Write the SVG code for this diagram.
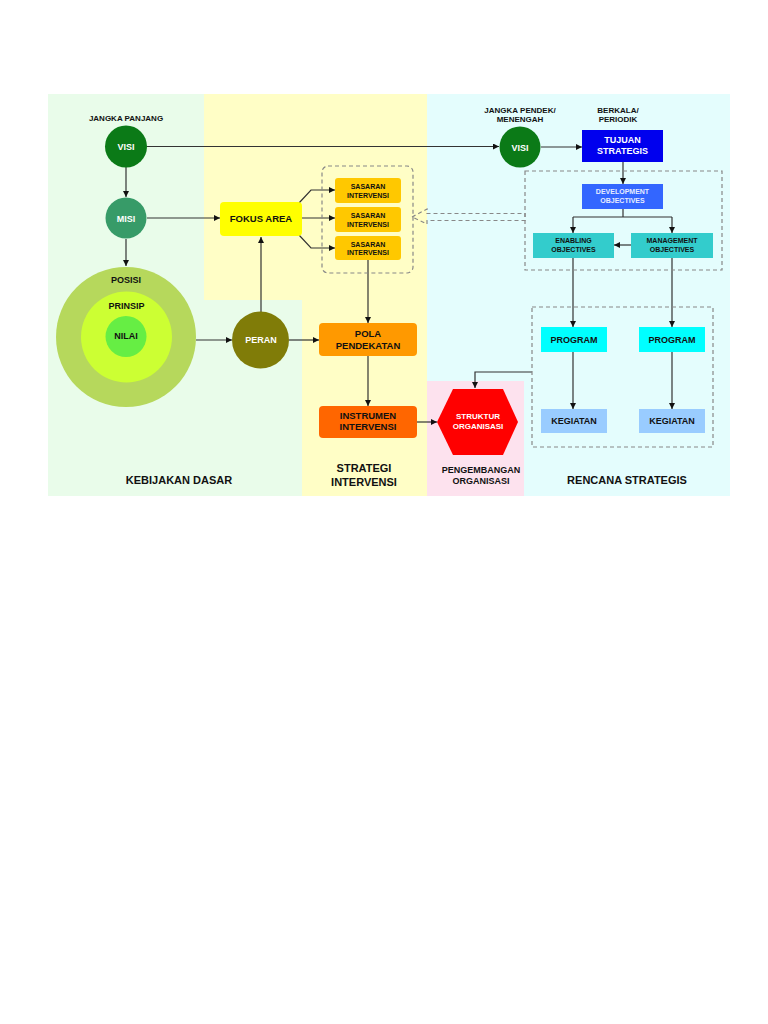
<svg xmlns="http://www.w3.org/2000/svg" width="768" height="1024" viewBox="0 0 768 1024">
<defs>
<marker id="ah" viewBox="0 0 10 10" refX="10" refY="5" markerWidth="6" markerHeight="6" orient="auto" markerUnits="userSpaceOnUse">
<path d="M0,0 L10,5 L0,10 z" fill="#111"/>
</marker>
</defs>
<style>
text{font-family:"Liberation Sans",Arial,sans-serif;font-weight:bold;text-anchor:middle;}
.dk{fill:#111;}
.wh{fill:#fff;}
.ln{stroke:#333;stroke-width:1.2;fill:none;}
.ar{stroke:#333;stroke-width:1.2;fill:none;marker-end:url(#ah);}
.dash{stroke:#888;stroke-width:1.2;fill:none;stroke-dasharray:4,3;}
.s7{font-size:7px;}
.s8{font-size:8px;}
.s9{font-size:9px;}
.s95{font-size:9.5px;}
.s11{font-size:11px;}
</style>
<rect width="768" height="1024" fill="#fff"/>
<g id="backgrounds">
<rect x="48" y="94" width="682" height="402" fill="#e9fcea"/>
<rect x="204" y="94" width="223" height="206" fill="#fffec6"/>
<rect x="302" y="300" width="125" height="196" fill="#fffec6"/>
<rect x="427" y="94" width="303" height="402" fill="#e4fdfd"/>
<rect x="427" y="381" width="97" height="115" fill="#fde2ee"/>
</g>
<g id="labels">
<text class="s8 dk" x="126" y="121">JANGKA PANJANG</text>
<text class="s8 dk" x="520" y="113">JANGKA PENDEK/</text>
<text class="s8 dk" x="520" y="122">MENENGAH</text>
<text class="s8 dk" x="618" y="113">BERKALA/</text>
<text class="s8 dk" x="618" y="122">PERIODIK</text>
<text class="s11 dk" x="179" y="484">KEBIJAKAN DASAR</text>
<text class="s11 dk" x="364" y="472">STRATEGI</text>
<text class="s11 dk" x="364" y="486">INTERVENSI</text>
<text class="s9 dk" x="481" y="473">PENGEMBANGAN</text>
<text class="s9 dk" x="481" y="484">ORGANISASI</text>
<text class="s11 dk" x="627" y="484">RENCANA STRATEGIS</text>
</g>
<g id="connectors">
<line class="ar" x1="147" y1="146.5" x2="499" y2="146.5"/>
<line class="ar" x1="126" y1="167" x2="126" y2="197"/>
<line class="ar" x1="147" y1="218" x2="220" y2="218"/>
<line class="ar" x1="126" y1="239" x2="126" y2="266"/>
<line class="ar" x1="196" y1="340" x2="232" y2="340"/>
<line class="ar" x1="261" y1="312" x2="261" y2="237"/>
<line class="ar" x1="289" y1="340" x2="319" y2="340"/>
<polyline class="ar" points="299,203 311,190 335,190"/>
<line class="ar" x1="302" y1="218" x2="335" y2="218"/>
<polyline class="ar" points="299,235 311,248 335,248"/>
<line class="ar" x1="368" y1="260" x2="368" y2="323"/>
<line class="ar" x1="368" y1="356" x2="368" y2="406"/>
<line class="ar" x1="417" y1="422" x2="437" y2="422"/>
<line class="ar" x1="541" y1="147" x2="582" y2="147"/>
<line class="ar" x1="623" y1="162" x2="623" y2="184"/>
<line class="ln" x1="623" y1="209" x2="623" y2="217"/>
<line class="ln" x1="573" y1="217" x2="672" y2="217"/>
<line class="ar" x1="573" y1="217" x2="573" y2="233"/>
<line class="ar" x1="672" y1="217" x2="672" y2="233"/>
<line class="ar" x1="631" y1="245" x2="614" y2="245"/>
<line class="ar" x1="573" y1="258" x2="573" y2="327"/>
<line class="ar" x1="672" y1="258" x2="672" y2="327"/>
<line class="ar" x1="573" y1="352" x2="573" y2="409"/>
<line class="ar" x1="672" y1="352" x2="672" y2="409"/>
<polyline class="ar" points="532,372 475,372 475,388"/>
<polygon class="dash" points="412,217 427,209 427,213.5 525,213.5 525,220.5 427,220.5 427,224"/>
</g>
<g id="groups">
<rect class="dash" x="322" y="166" width="91" height="107" rx="6"/>
<rect class="dash" x="525" y="171" width="197" height="99"/>
<rect class="dash" x="532" y="307" width="181" height="140"/>
</g>
<g id="visi">
<circle cx="126" cy="146.5" r="21" fill="#0b7a17"/>
<text class="s9 wh" x="126" y="150">VISI</text>
</g>
<g id="misi">
<circle cx="126" cy="218" r="20.5" fill="#379b68"/>
<text class="s9 wh" x="126" y="221.5">MISI</text>
</g>
<g id="posisi">
<circle cx="126" cy="337" r="70" fill="#b6d85c"/>
<text class="s9 dk" x="126" y="283">POSISI</text>
</g>
<g id="prinsip">
<circle cx="126.5" cy="337" r="45.5" fill="#ccff33"/>
<text class="s9 dk" x="126.5" y="309">PRINSIP</text>
</g>
<g id="nilai">
<circle cx="126" cy="336.5" r="20.5" fill="#66ee44"/>
<text class="s9 dk" x="126" y="338.5">NILAI</text>
</g>
<g id="peran">
<circle cx="260.5" cy="340" r="28.5" fill="#807c08"/>
<text class="s9 wh" x="261" y="343">PERAN</text>
</g>
<g id="fokus-area">
<rect x="220" y="202" width="82" height="34" rx="4" fill="#ffff00"/>
<text class="s95 dk" x="261" y="221.5">FOKUS AREA</text>
</g>
<g id="sasaran1">
<rect x="335" y="178" width="66" height="25" rx="3" fill="#ffc800"/>
<text class="s7 dk" x="368" y="189">SASARAN</text>
<text class="s7 dk" x="368" y="197.5">INTERVENSI</text>
</g>
<g id="sasaran2">
<rect x="335" y="207" width="66" height="25" rx="3" fill="#ffc800"/>
<text class="s7 dk" x="368" y="218">SASARAN</text>
<text class="s7 dk" x="368" y="226.5">INTERVENSI</text>
</g>
<g id="sasaran3">
<rect x="335" y="236" width="66" height="24" rx="3" fill="#ffc800"/>
<text class="s7 dk" x="368" y="246.5">SASARAN</text>
<text class="s7 dk" x="368" y="255">INTERVENSI</text>
</g>
<g id="pola-pendekatan">
<rect x="319" y="323" width="98" height="33" rx="4" fill="#ff9900"/>
<text class="s95 dk" x="368" y="336.5">POLA</text>
<text class="s95 dk" x="368" y="348.5">PENDEKATAN</text>
</g>
<g id="instrumen-intervensi">
<rect x="319" y="406" width="98" height="32" rx="4" fill="#ff6600"/>
<text class="s95 dk" x="368" y="419">INSTRUMEN</text>
<text class="s95 dk" x="368" y="430">INTERVENSI</text>
</g>
<g id="struktur-organisasi">
<polygon points="437,422 453,389 503,389 518,422 503,455 453,455" fill="#ff0000"/>
<text class="s8 wh" x="478" y="419">STRUKTUR</text>
<text class="s8 wh" x="478" y="429">ORGANISASI</text>
</g>
<g id="visi2">
<circle cx="520" cy="147" r="20.5" fill="#0b7a17"/>
<text class="s9 wh" x="520" y="150.5">VISI</text>
</g>
<g id="tujuan-strategis">
<rect x="582" y="130" width="81" height="32" fill="#0000ee"/>
<text class="s9 wh" x="622.5" y="143">TUJUAN</text>
<text class="s9 wh" x="622.5" y="154">STRATEGIS</text>
</g>
<g id="development-objectives">
<rect x="582" y="184" width="81" height="25" fill="#3366ff"/>
<text class="s7" fill="#e6ecff" x="622.5" y="193.5">DEVELOPMENT</text>
<text class="s7" fill="#e6ecff" x="622.5" y="202.5">OBJECTIVES</text>
</g>
<g id="enabling-objectives">
<rect x="533" y="233" width="81" height="25" fill="#33cccc"/>
<text class="s7 dk" x="573.5" y="242.5">ENABLING</text>
<text class="s7 dk" x="573.5" y="251.5">OBJECTIVES</text>
</g>
<g id="management-objectives">
<rect x="631" y="233" width="82" height="25" fill="#33cccc"/>
<text class="s7 dk" x="672" y="242.5">MANAGEMENT</text>
<text class="s7 dk" x="672" y="251.5">OBJECTIVES</text>
</g>
<g id="program1">
<rect x="541" y="327" width="66" height="25" fill="#00ffff"/>
<text class="s9 dk" x="574" y="342.5">PROGRAM</text>
</g>
<g id="program2">
<rect x="639" y="327" width="66" height="25" fill="#00ffff"/>
<text class="s9 dk" x="672" y="342.5">PROGRAM</text>
</g>
<g id="kegiatan1">
<rect x="541" y="409" width="66" height="24" fill="#99ccff"/>
<text class="s9 dk" x="574" y="424">KEGIATAN</text>
</g>
<g id="kegiatan2">
<rect x="639" y="409" width="66" height="24" fill="#99ccff"/>
<text class="s9 dk" x="672" y="424">KEGIATAN</text>
</g>
</svg>
